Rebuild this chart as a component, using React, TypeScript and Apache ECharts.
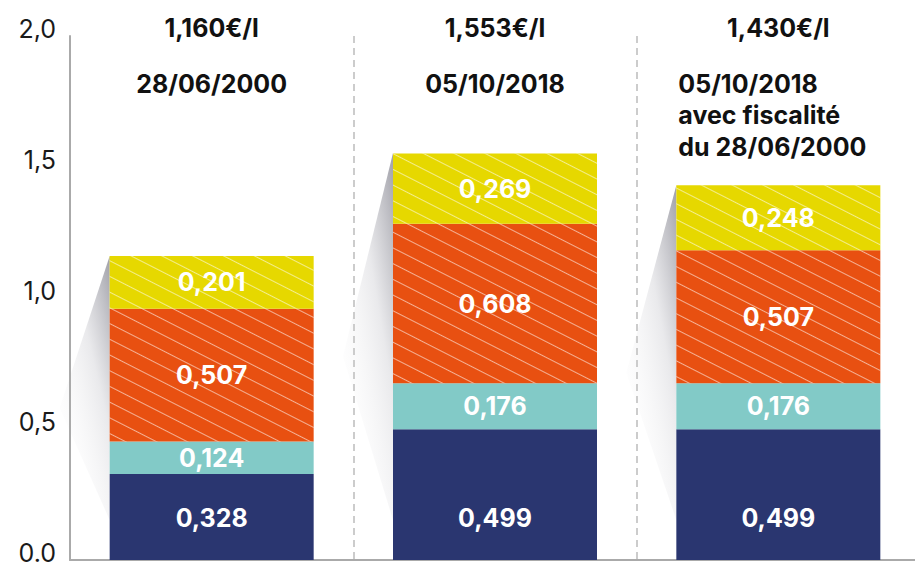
import React, { useEffect, useRef } from "react";
import * as echarts from "echarts";

const categories = ["28/06/2000", "05/10/2018", "05/10/2018 fiscalité 2000"];
const prices = ["1,160€/l", "1,553€/l", "1,430€/l"];
const headings = ["28/06/2000", "05/10/2018", "05/10/2018\navec fiscalité\ndu 28/06/2000"];
const navyValues = [0.328, 0.499, 0.499];
const tealValues = [0.124, 0.176, 0.176];
const orangeValues = [0.507, 0.608, 0.507];
const yellowValues = [0.201, 0.269, 0.248];
const totals = [1.16, 1.553, 1.43];
const yTickLabels = ["0.0", "0,5", "1,0", "1,5", "2,0"];

const FONT = "Inter, Roboto, sans-serif";
const BAR_RATIO = 0.72;

const hatch = {
  symbol: "rect",
  symbolSize: 1,
  dashArrayX: [1, 0],
  dashArrayY: [1, 13],
  rotation: Math.PI * 0.15,
  color: "rgba(255,255,255,0.55)",
};

const fmt = (v: number) => v.toFixed(3).replace(".", ",");

function barSeries(
  name: string,
  data: number[],
  color: string,
  decal?: any,
  labelPos: any = "inside",
  labelDist = 5
) {
  return {
    name,
    type: "bar",
    stack: "total",
    data,
    barWidth: `${BAR_RATIO * 100}%`,
    z: 2,
    itemStyle: decal ? { color, decal } : { color },
    label: {
      show: true,
      position: labelPos,
      distance: labelDist,
      color: "#ffffff",
      fontFamily: FONT,
      fontWeight: "bold",
      fontSize: 25,
      formatter: (p: any) => fmt(p.value),
    },
  };
}

export default function App() {
  const ref = useRef<HTMLDivElement>(null);
  useEffect(() => {
    if (!ref.current) return;
    const chart = echarts.init(ref.current, undefined, { renderer: "svg" });
    chart.setOption({
      animation: false,
      backgroundColor: "#ffffff",
      grid: {
        left: 70,
        top: 36,
        width: 850,
        height: 524,
        containLabel: false,
        outerBoundsMode: "none",
      },
      xAxis: {
        type: "category",
        data: categories,
        z: 1.5,
        axisLine: { show: true, lineStyle: { color: "#aaaaaa", width: 2 } },
        axisTick: { show: false },
        axisLabel: { show: false },
        splitLine: { show: true, lineStyle: { color: "#cccccc", width: 2, type: [7, 5] } },
      },
      yAxis: {
        type: "value",
        min: 0,
        max: 2,
        interval: 0.5,
        z: 1.5,
        axisLine: { show: true, lineStyle: { color: "#aaaaaa", width: 2 } },
        axisTick: { show: false },
        splitLine: { show: false },
        axisLabel: {
          color: "#1a1a1a",
          fontFamily: FONT,
          fontSize: 25,
          margin: 14,
          verticalAlign: "bottom",
          lineHeight: 15,
          formatter: (v: number) => yTickLabels[Math.round(v / 0.5)],
        },
      },
      series: [
        {
          type: "custom",
          name: "shadow",
          z: 1,
          silent: true,
          clip: false,
          data: totals.map((t, i) => [i, t]),
          renderItem: (params: any, api: any) => {
            const idx = api.value(0);
            const total = api.value(1);
            const top = api.coord([idx, total]);
            const base = api.coord([idx, 0]);
            const bw = api.size([1, 0])[0] * BAR_RATIO;
            const left = top[0] - bw / 2;
            return {
              type: "polygon",
              shape: {
                points: [
                  [left, top[1]],
                  [left - 50, (top[1] + base[1]) / 2],
                  [left, base[1] - 40],
                ],
              },
              style: {
                fill: new echarts.graphic.LinearGradient(1, 0, 0.2, 1, [
                  { offset: 0, color: "rgba(160,160,168,1)" },
                  { offset: 0.4, color: "rgba(228,228,231,0.8)" },
                  { offset: 1, color: "rgba(255,255,255,0)" },
                ]),
              },
            };
          },
        },
        barSeries("navy", navyValues, "#2a3670", undefined, "insideBottom", 30),
        barSeries("teal", tealValues, "#82cac7"),
        barSeries("orange", orangeValues, "#e85011", hatch),
        barSeries("yellow", yellowValues, "#e6d800", hatch),
        {
          type: "custom",
          name: "headings",
          z: 3,
          silent: true,
          clip: false,
          data: prices.map((_, i) => [i, 2]),
          renderItem: (params: any, api: any) => {
            const idx = api.value(0);
            const c = api.coord([idx, 2]);
            const bw = api.size([1, 0])[0] * BAR_RATIO;
            const heading = headings[idx];
            const multi = heading.indexOf("\n") >= 0;
            return {
              type: "group",
              children: [
                {
                  type: "text",
                  x: c[0],
                  y: c[1] - 8,
                  style: {
                    text: prices[idx],
                    fill: "#111111",
                    fontFamily: FONT,
                    fontWeight: "bold",
                    fontSize: 25,
                    align: "center",
                    verticalAlign: "middle",
                  },
                },
                {
                  type: "text",
                  x: multi ? c[0] - bw / 2 + 2 : c[0],
                  y: c[1] + 32,
                  style: {
                    text: heading,
                    fill: "#111111",
                    fontFamily: FONT,
                    fontWeight: "bold",
                    fontSize: 25,
                    lineHeight: 31.5,
                    align: multi ? "left" : "center",
                    verticalAlign: "top",
                  },
                },
              ],
            };
          },
        },
      ],
    });
    return () => chart.dispose();
  }, []);
  return (
    <div
      ref={ref}
      style={{ position: "fixed", left: 0, top: 0, width: 915, height: 563 }}
    />
  );
}
